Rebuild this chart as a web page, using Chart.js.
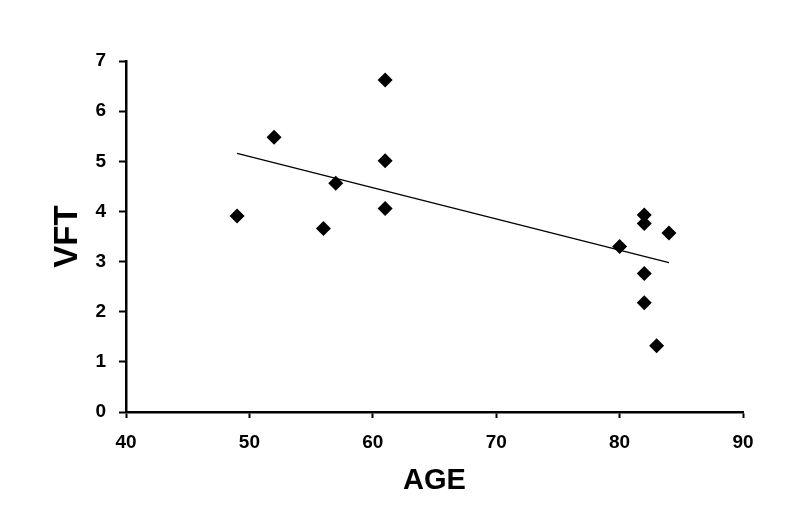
<!DOCTYPE html>
<html>
<head>
<meta charset="utf-8">
<script src="https://cdn.jsdelivr.net/npm/chart.js@4/dist/chart.umd.min.js"></script>
<style>
  html, body { margin: 0; padding: 0; background: #fff; }
  canvas { display: block; }
</style>
</head>
<body>
<canvas id="c" width="800" height="524"></canvas>
<script>
// Data
const ageValues = [49, 52, 56, 57, 61, 61, 61, 80, 82, 82, 84, 82, 82, 83];
const vftValues = [3.91, 5.48, 3.66, 4.56, 6.62, 5.01, 4.06, 3.30, 3.93, 3.76, 3.57, 2.76, 2.18, 1.32];
const trendAge = [49, 84];
const trendVft = [5.16, 2.98];
const xTicks = [40, 50, 60, 70, 80, 90];
const yTicks = [0, 1, 2, 3, 4, 5, 6, 7];
const xTitle = 'AGE';
const yTitle = 'VFT';

const points = ageValues.map((a, i) => ({ x: a, y: vftValues[i] }));
const trend = trendAge.map((a, i) => ({ x: a, y: trendVft[i] }));

const FONT = "'Liberation Sans', Arial, sans-serif";

new Chart(document.getElementById('c'), {
  type: 'scatter',
  data: {
    datasets: [
      {
        type: 'line',
        data: trend,
        borderColor: '#000',
        borderWidth: 1.3,
        pointRadius: 0,
        fill: false,
        tension: 0
      },
      {
        data: points,
        pointStyle: 'rectRot',
        pointRadius: 7.5,
        backgroundColor: '#000',
        borderColor: '#000',
        borderWidth: 0
      }
    ]
  },
  options: {
    responsive: false,
    animation: false,
    events: [],
    layout: { padding: { left: 0, top: 61, right: 57, bottom: 0 } },
    plugins: { legend: { display: false }, tooltip: { enabled: false } },
    scales: {
      x: {
        type: 'linear',
        position: 'bottom',
        min: xTicks[0],
        max: xTicks[xTicks.length - 1],
        afterBuildTicks: s => { s.ticks = xTicks.map(v => ({ value: v })); },
        afterFit: s => { s.height = 524 - 61 - 351; },
        grid: { drawOnChartArea: false, drawTicks: true, tickLength: 6, tickWidth: 2, tickColor: '#000' },
        border: { color: '#000', width: 2.5 },
        ticks: { color: '#000', padding: 13, font: { family: FONT, size: 19, weight: 'bold' }, maxRotation: 0 },
        title: { display: true, text: xTitle, color: '#000', padding: { top: 0, bottom: 26 },
                 font: { family: FONT, size: 29, weight: 'bold', lineHeight: 1.2 } }
      },
      y: {
        type: 'linear',
        min: yTicks[0],
        max: yTicks[yTicks.length - 1],
        afterBuildTicks: s => { s.ticks = yTicks.map(v => ({ value: v })); },
        afterFit: s => { s.width = 126; },
        grid: { drawOnChartArea: false, drawTicks: true, tickLength: 7, tickWidth: 2, tickColor: '#000' },
        border: { color: '#000', width: 2.5 },
        ticks: { color: '#000', padding: 13, font: { family: FONT, size: 19, weight: 'bold' } },
        title: { display: true, text: yTitle, color: '#000', padding: { top: 48, bottom: 0 },
                 font: { family: FONT, size: 33, weight: 'bold', lineHeight: 1.2 } }
      }
    }
  }
});
</script>
</body>
</html>
